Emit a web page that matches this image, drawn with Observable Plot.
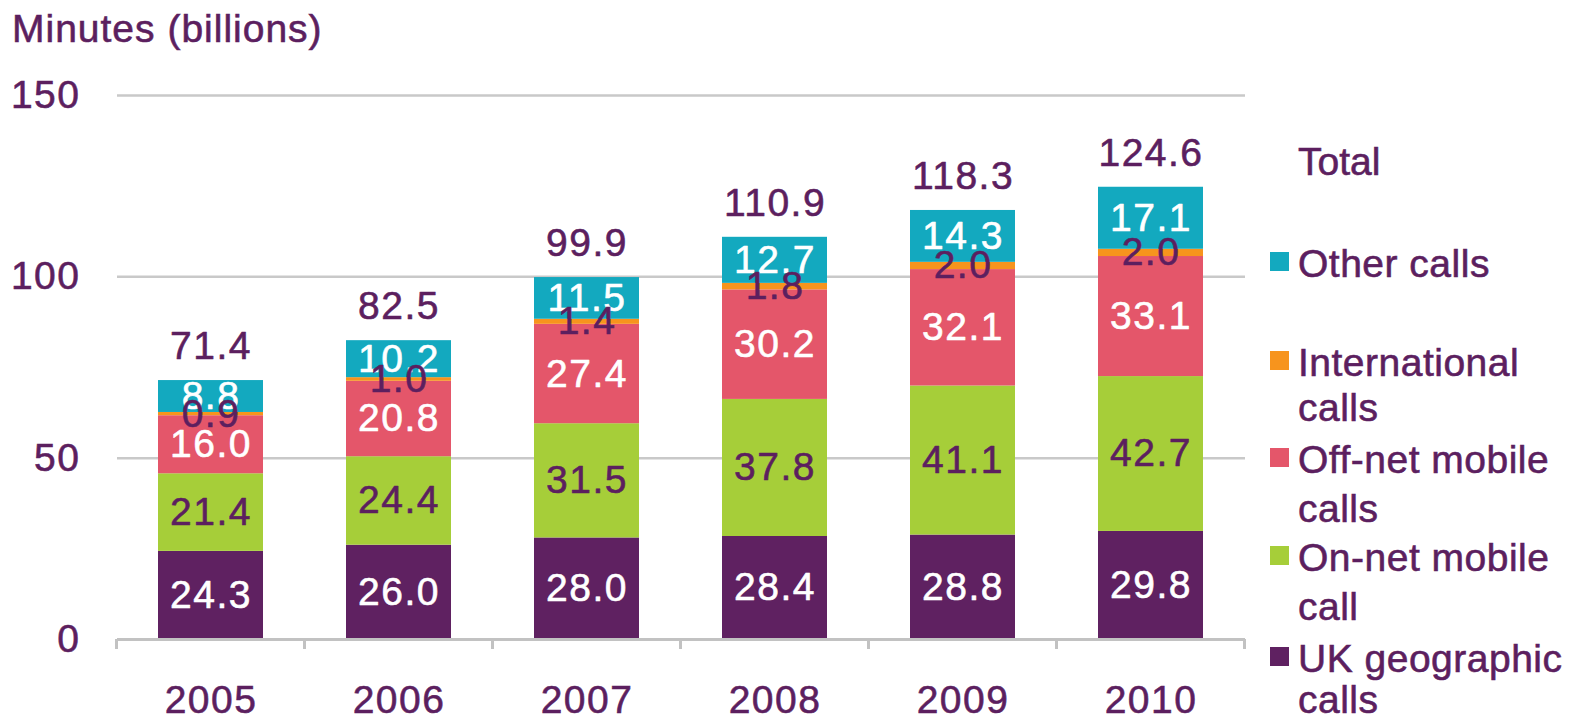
<!DOCTYPE html>
<html>
<head>
<meta charset="utf-8">
<script src="https://cdn.jsdelivr.net/npm/d3@7"></script>
<script src="https://cdn.jsdelivr.net/npm/@observablehq/plot@0.6"></script>
<style>
  html, body { margin: 0; padding: 0; background: #fff; }
  #wrap { position: relative; width: 1582px; height: 723px; overflow: hidden; }
  #wrap svg { position: absolute; left: 0; top: 0; }
</style>
</head>
<body>
<div id="wrap"></div>
<script>
const years = ["2005", "2006", "2007", "2008", "2009", "2010"];
const series = ["UK geographic calls", "On-net mobile call", "Off-net mobile calls", "International calls", "Other calls"];
const ukGeographic = [24.3, 26.0, 28.0, 28.4, 28.8, 29.8];
const onNetMobile = [21.4, 24.4, 31.5, 37.8, 41.1, 42.7];
const offNetMobile = [16.0, 20.8, 27.4, 30.2, 32.1, 33.1];
const international = [0.9, 1.0, 1.4, 1.8, 2.0, 2.0];
const otherCalls = [8.8, 10.2, 11.5, 12.7, 14.3, 17.1];
const totals = [71.4, 82.5, 99.9, 110.9, 118.3, 124.6];
const colors = ["#5f2161", "#a6ce39", "#e4566a", "#f7941d", "#13a9bf"];
const labelColors = ["#ffffff", "#5c1f5f", "#ffffff", "#5c1f5f", "#ffffff"];
const yTicks = [0, 50, 100, 150];
const gridValues = [50, 100, 150];
const titleText = "Minutes (billions)";
const legendTitle = "Total";
const legendOrder = ["Other calls", "International calls", "Off-net mobile calls", "On-net mobile call", "UK geographic calls"];
const legendLines = [["Other calls"], ["International", "calls"], ["Off-net mobile", "calls"], ["On-net mobile", "call"], ["UK geographic", "calls"]];

const valuesBySeries = [ukGeographic, onNetMobile, offNetMobile, international, otherCalls];
const rows = [];
series.forEach((s, i) => years.forEach((y, j) => rows.push({year: y, series: s, value: valuesBySeries[i][j]})));
const totalRows = years.map((y, j) => ({year: y, total: totals[j]}));
const colorOf = Object.fromEntries(series.map((s, i) => [s, colors[i]]));
const labelColorOf = Object.fromEntries(series.map((s, i) => [s, labelColors[i]]));

const PURPLE = "#5c1f5f";
const FONT = "'Liberation Sans', Arial, sans-serif";
const SW = 0.6;

const stackOpts = {x: "year", y: "value", z: "series", order: series};

const plot = Plot.plot({
  width: 1582,
  height: 723,
  marginLeft: 117,
  marginRight: 337,
  marginTop: 95,
  marginBottom: 84,
  style: {fontFamily: FONT, fontSize: "39px", color: PURPLE, background: "white", letterSpacing: "1.5px"},
  x: {domain: years, paddingInner: 0.44, paddingOuter: 0.22, label: null, tickSize: 0, tickPadding: 46},
  y: {domain: [0, 150], ticks: yTicks, label: null, tickSize: 0, tickPadding: 37},
  color: {type: "identity"},
  marks: [
    Plot.ruleY(gridValues, {stroke: "#c9c9c9", strokeWidth: 2.5}),
    Plot.barY(rows, {...stackOpts, fill: d => colorOf[d.series]}),
    Plot.ruleY([0], {stroke: "#c2c2c2", strokeWidth: 3}),
    Plot.text(rows, Plot.filter(d => labelColorOf[d.series] === "#ffffff",
      Plot.stackY({...stackOpts, text: d => d.value.toFixed(1), fill: "#ffffff", stroke: "#ffffff", strokeWidth: SW, fontSize: 39}))),
    Plot.text(rows, Plot.filter(d => labelColorOf[d.series] !== "#ffffff",
      Plot.stackY({...stackOpts, text: d => d.value.toFixed(1), fill: PURPLE, stroke: PURPLE, strokeWidth: SW, fontSize: 39}))),
    Plot.text(totalRows, {x: "year", y: "total", text: d => d.total.toFixed(1), fill: PURPLE, stroke: PURPLE, strokeWidth: SW, fontSize: 39, dy: -34})
  ]
});

const wrap = document.getElementById("wrap");
wrap.appendChild(plot);

// thicken axis tick labels a little, like the reference
d3.select(plot).selectAll("g[aria-label$='tick label']")
  .attr("stroke", "currentColor").attr("stroke-width", SW);

// tick marks at category boundaries, from the x band scale
const xs = plot.scale("x");
const ys = plot.scale("y");
const y0 = ys.apply(0);
const gap = (xs.step - xs.bandwidth) / 2;
const bounds = years.map(y => xs.apply(y) - gap);
bounds.push(xs.apply(years[years.length - 1]) + xs.bandwidth + gap);
d3.select(plot).append("g").selectAll("line").data(bounds).join("line")
  .attr("x1", d => d).attr("x2", d => d)
  .attr("y1", y0).attr("y2", y0 + 10)
  .attr("stroke", "#c2c2c2").attr("stroke-width", 3);

// overlay for title + legend
const ov = d3.select(wrap).append("svg")
  .attr("width", 1582).attr("height", 723)
  .style("pointer-events", "none")
  .attr("font-family", FONT).attr("font-size", 39)
  .attr("fill", PURPLE).attr("stroke", PURPLE).attr("stroke-width", SW);

ov.append("text").attr("x", 12).attr("y", 42).attr("letter-spacing", "1px").text(titleText);
ov.append("text").attr("x", 1298).attr("y", 175).text(legendTitle);

const baselines = [[277], [376, 421], [473, 522], [571, 620], [672, 713]];
legendOrder.forEach((s, i) => {
  ov.append("rect").attr("x", 1270).attr("y", baselines[i][0] - 25).attr("width", 19).attr("height", 19)
    .attr("fill", colorOf[s]).attr("stroke", "none");
  legendLines[i].forEach((line, k) => {
    ov.append("text").attr("x", 1298).attr("y", baselines[i][k]).attr("letter-spacing", "0.5px").text(line);
  });
});
</script>
</body>
</html>
